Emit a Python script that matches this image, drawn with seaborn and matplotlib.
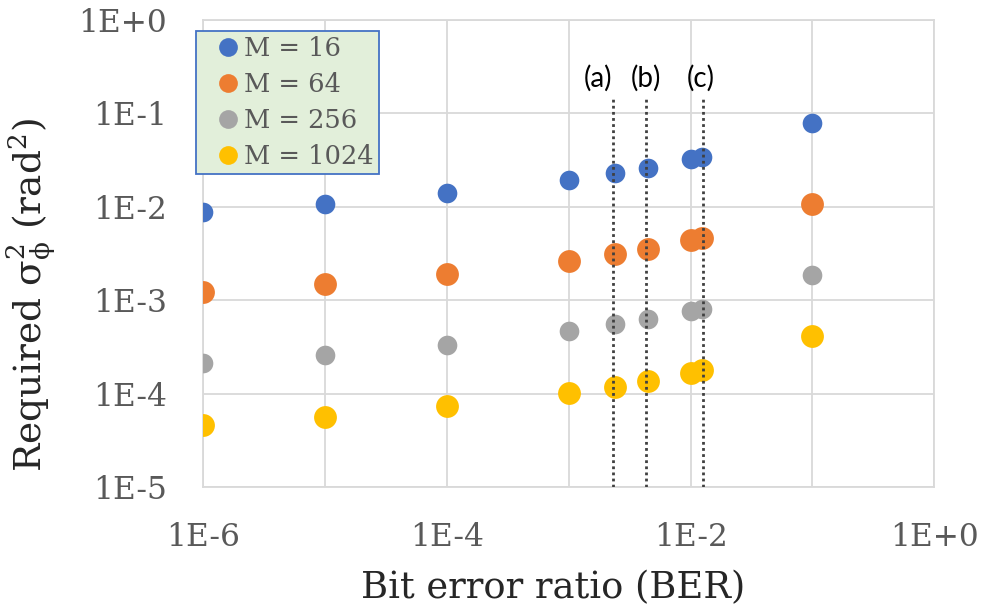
import numpy as np
import pandas as pd
import matplotlib
matplotlib.use("Agg")
import matplotlib.pyplot as plt
import seaborn as sns
from matplotlib.ticker import FixedLocator, NullFormatter
from matplotlib.lines import Line2D

# ---- data ----
ber = [1e-6, 1e-5, 1e-4, 1e-3, 2.4e-3, 4.5e-3, 1e-2, 1.25e-2, 1e-1]
series_names = ["M = 16", "M = 64", "M = 256", "M = 1024"]
m16 = [8.8e-3, 1.08e-2, 1.39e-2, 1.94e-2, 2.29e-2, 2.61e-2, 3.21e-2, 3.38e-2, 7.8e-2]
m64 = [1.21e-3, 1.48e-3, 1.91e-3, 2.65e-3, 3.13e-3, 3.54e-3, 4.39e-3, 4.64e-3, 1.07e-2]
m256 = [2.12e-4, 2.59e-4, 3.34e-4, 4.72e-4, 5.52e-4, 6.24e-4, 7.66e-4, 8.13e-4, 1.88e-3]
m1024 = [4.63e-5, 5.65e-5, 7.29e-5, 1.02e-4, 1.19e-4, 1.37e-4, 1.66e-4, 1.77e-4, 4.10e-4]
marker_lines_x = [2.3e-3, 4.3e-3, 1.26e-2]
marker_labels = ["(a)", "(b)", "(c)"]
x_tick_vals = [1e-6, 1e-4, 1e-2, 1e0]
x_tick_labels = ["1E-6", "1E-4", "1E-2", "1E+0"]
y_tick_vals = [1e-5, 1e-4, 1e-3, 1e-2, 1e-1, 1e0]
y_tick_labels = ["1E-5", "1E-4", "1E-3", "1E-2", "1E-1", "1E+0"]

colors = ["#4472C4", "#ED7D31", "#A5A5A5", "#FFC000"]
sizes = [200, 270, 200, 270]

df = pd.DataFrame({
    "BER": ber * 4,
    "val": m16 + m64 + m256 + m1024,
    "M": sum([[n] * len(ber) for n in series_names], []),
})

sns.set_style("white")
plt.rcParams["mathtext.fontset"] = "dejavuserif"
plt.rcParams["mathtext.default"] = "regular"

fig = plt.figure(figsize=(9.85, 6.07), dpi=100)
ax = fig.add_axes([0.2064, 0.1977, 0.7421, 0.7694])

for name, col, sz in zip(series_names, colors, sizes):
    sub = df[df["M"] == name]
    sns.scatterplot(data=sub, x="BER", y="val", color=col, s=sz, linewidth=0,
                    ax=ax, zorder=3, legend=False)

ax.set_xscale("log")
ax.set_yscale("log")
ax.set_xlim(1e-6, 1e0)
ax.set_ylim(1e-5, 1e0)

# grid
ax.xaxis.set_major_locator(FixedLocator(x_tick_vals))
ax.set_xticklabels(x_tick_labels)
ax.xaxis.set_minor_locator(FixedLocator([1e-5, 1e-3, 1e-1]))
ax.xaxis.set_minor_formatter(NullFormatter())
ax.yaxis.set_major_locator(FixedLocator(y_tick_vals))
ax.set_yticklabels(y_tick_labels)
ax.yaxis.set_minor_locator(FixedLocator([]))
ax.grid(True, which="both", axis="x", color="#D9D9D9", linewidth=1.3)
ax.grid(True, which="major", axis="y", color="#D9D9D9", linewidth=1.3)
ax.set_axisbelow(True)
for sp in ax.spines.values():
    sp.set_color("#D9D9D9")
    sp.set_linewidth(1.3)
ax.tick_params(axis="both", which="both", length=0)
ax.tick_params(axis="x", pad=25)
ax.tick_params(axis="y", pad=26)
for lab in ax.get_xticklabels() + ax.get_yticklabels():
    lab.set_fontfamily("DejaVu Serif")
    lab.set_fontsize(22.5)
    lab.set_color("#595959")

# dotted vertical markers
ax.vlines(marker_lines_x, 1e-5, 0.15, colors="#404040", linestyles=(0, (1, 1.2)),
          linewidth=2, zorder=4)
label_x = [1.75e-3, 4.3e-3, 1.2e-2]
for lx, txt in zip(label_x, marker_labels):
    ax.text(lx, 0.235, txt, ha="center", va="center", fontsize=20,
            family="Lato", color="black")

ax.set_xlabel("Bit error ratio (BER)", fontsize=26.5, family="DejaVu Serif")
ax.xaxis.set_label_coords(0.479, -0.178)
ax.set_ylabel(r"Required $\sigma_{\phi}^{2}$ (rad$^{2}$)", fontsize=27,
              family="DejaVu Serif")
ax.yaxis.set_label_coords(-0.200, 0.411)

handles = [Line2D([0], [0], marker="o", linestyle="", markersize=13.5,
                  markerfacecolor=c, markeredgewidth=0) for c in colors]
leg = ax.legend(handles, series_names, loc="upper left",
                bbox_to_anchor=(-0.010, 0.9764), frameon=True,
                prop={"family": "DejaVu Serif", "size": 18.5},
                handlelength=2.1, handletextpad=-0.43, borderpad=0.2,
                labelspacing=0.43, fancybox=False, borderaxespad=0)
leg.get_frame().set_facecolor("#E2EFDA")
leg.get_frame().set_edgecolor("#4472C4")
leg.get_frame().set_linewidth(1.3)
leg.get_frame().set_alpha(1)
for t in leg.get_texts():
    t.set_color("#595959")

fig.savefig("out.png", dpi=100)
